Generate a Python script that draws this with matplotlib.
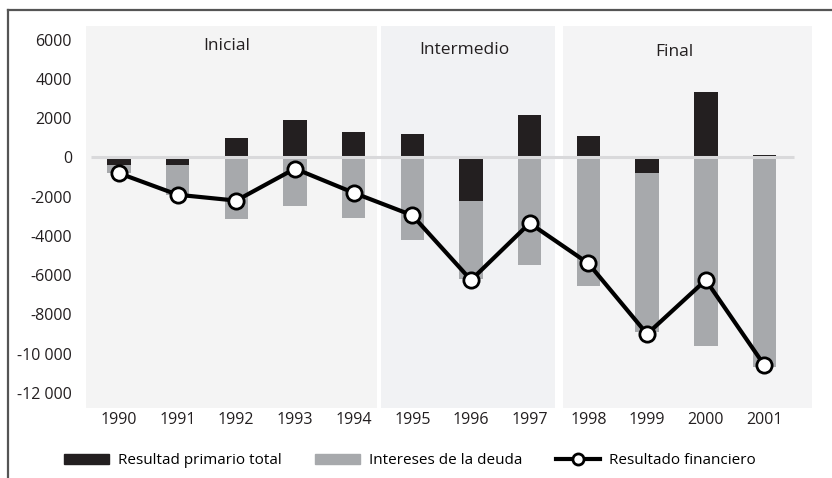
import matplotlib
matplotlib.use("Agg")
import matplotlib.pyplot as plt
from matplotlib.lines import Line2D
from matplotlib.patches import Patch

plt.rcParams['font.family'] = ['Open Sans', 'DejaVu Sans']

# Datos (millones)
anios = ['1990', '1991', '1992', '1993', '1994', '1995',
         '1996', '1997', '1998', '1999', '2000', '2001']
primario = [-400, -400, 1000, 1900, 1300, 1200,
            -2200, 2150, 1100, -770, 3330, 150]
intereses = [-400, -1500, -3150, -2450, -3100, -4200,
             -4000, -5500, -6550, -8150, -9600, -10700]
financiero = [-800, -1900, -2200, -570, -1800, -2950,
              -6250, -3350, -5400, -9000, -6250, -10600]

etapas = ['Inicial', 'Intermedio', 'Final']
etapa_limites = [(-0.56, 4.40), (4.46, 7.43), (7.56, 11.81)]
etapa_colores = ['#f4f4f4', '#f1f2f4', '#f4f4f5']

yticks = [6000, 4000, 2000, 0, -2000, -4000, -6000, -8000, -10000, -12000]
ytick_labels = ['6000', '4000', '2000', '0', '-2000', '-4000', '-6000',
                '-8000', '-10 000', '-12 000']

negro = '#231f20'
gris = '#a7a9ac'

fig = plt.figure(figsize=(8.32, 4.78), dpi=100)
ax = fig.add_axes([86 / 832, 1 - 408 / 478, 726 / 832, 382 / 478])

x = list(range(len(anios)))

# fondos de cada etapa
for (x0, x1), c in zip(etapa_limites, etapa_colores):
    ax.axvspan(x0, x1, color=c, zorder=0, lw=0)

# barras: el primario parte de cero, los intereses desde el primario si es negativo
base_int = [p if p < 0 else 0 for p in primario]
ax.bar(x, primario, width=0.4, color=negro, zorder=2)
ax.bar(x, intereses, width=0.4, bottom=base_int, color=gris, zorder=2)

ax.plot([-0.48, 11.5], [0, 0], color='#d9d9db', lw=2.2, zorder=3,
        solid_capstyle='butt')

ax.plot(x, financiero, color='black', lw=3, marker='o', ms=11,
        mfc='white', mec='black', mew=2, zorder=4)

# títulos de las etapas
ax.text(1.84, 5700, etapas[0], ha='center', va='center', fontsize=12.5, color='#231f20')
ax.text(5.88, 5500, etapas[1], ha='center', va='center', fontsize=12.5, color='#231f20')
ax.text(9.47, 5400, etapas[2], ha='center', va='center', fontsize=12.5, color='#231f20')

ax.set_xlim(-0.56, 11.81)
ax.set_ylim(-12770, 6700)
ax.set_xticks(x)
ax.set_xticklabels(anios)
ax.set_yticks(yticks)
ax.set_yticklabels(ytick_labels)
ax.tick_params(length=0, labelsize=11.5, labelcolor='#231f20')
ax.tick_params(axis='x', pad=3)
ax.tick_params(axis='y', pad=10)
for s in ax.spines.values():
    s.set_visible(False)

# marco de la figura
fig.add_artist(Line2D([8 / 832, 1], [1 - 10 / 478] * 2, color='#555555', lw=1.6))
fig.add_artist(Line2D([8 / 832] * 2, [0, 1 - 10 / 478], color='#555555', lw=1.6))

handles = [
    Patch(color=negro, label='Resultad primario total'),
    Patch(color=gris, label='Intereses de la deuda'),
    Line2D([], [], color='black', lw=3, marker='o', ms=8, mfc='white',
           mec='black', mew=2, label='Resultado financiero'),
]
fig.legend(handles=handles, loc='center', bbox_to_anchor=(0.493, 1 - 461 / 478),
           ncol=3, frameon=False, fontsize=11, handlelength=2.9,
           handleheight=0.6, columnspacing=2.2, handletextpad=0.6)

fig.savefig('out.png', dpi=100)
